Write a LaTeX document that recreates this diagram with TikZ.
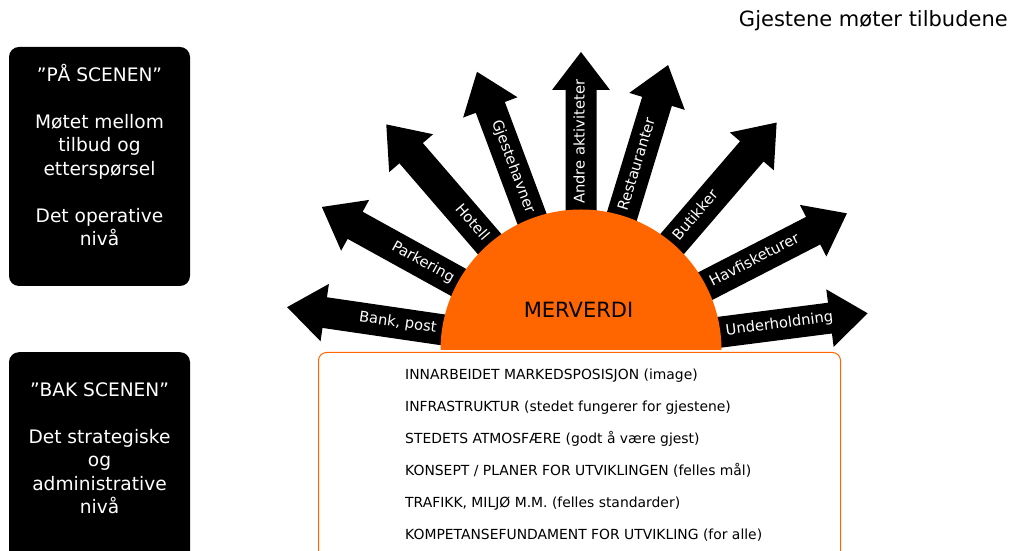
\documentclass[tikz,border=0pt]{standalone}
\usepackage{fontspec}
\setmainfont{DejaVu Sans}

\definecolor{oransje}{RGB}{255,102,0}
\tikzset{
  svartboks/.style={fill=black, rounded corners=10pt, minimum width=181pt, inner sep=0pt},
  hvittekst/.style={text=white, align=center, inner sep=0pt, font=\fontsize{18.6}{23.5}\selectfont},
  pil/.style={fill=black},
  etikett/.style={text=white, inner sep=0pt, font=\fontsize{14.7}{17}\selectfont, text height=0.73em, text depth=0pt},
  linje/.style={anchor=base west, inner sep=0pt, font=\fontsize{13.9}{16}\selectfont},
}

\begin{document}
\begin{tikzpicture}[x=1pt, y=1pt]
\clip (0,0) rectangle (1010,551);
\coordinate (midt) at (581,201);

\node[anchor=base east, inner sep=0pt, font=\fontsize{21}{25}\selectfont] (tittel) at (1008,524) {Gjestene møter tilbudene};

% boksene til venstre
\node[svartboks, minimum height=239pt] (paascenen) at (99.5,384.5) {};
\node[hvittekst] (paatekst) at (99.5,396) {”PÅ SCENEN”\\[23.5pt] Møtet mellom\\ tilbud og\\ etterspørsel\\[23.5pt] Det operative\\ nivå};
\node[svartboks, minimum height=240pt, anchor=north] (bakscenen) at (99.5,199) {};
\node[hvittekst] (baktekst) at (99.5,103) {”BAK SCENEN”\\[23.5pt] Det strategiske\\ og\\ administrative\\ nivå};

% pilene
\foreach \v/\l/\t [count=\i] in {171.7/297/{Bank, post}, 151.1/296/Parkering, 130.8/298/Hotell, 110.5/297/Gjestehavner}
{
  \fill[pil, shift={(midt)}, rotate=\v] (125,-15.5) -- (\l-38,-15.5) -- (\l-38,-29) -- (\l,0) -- (\l-38,29) -- (\l-38,15.5) -- (125,15.5) -- cycle;
  \node[etikett, anchor=east, rotate=\v-180] (etikett\i) at ([shift={(\v:146)}]midt) {\t};
}
\foreach \v/\l/\t [count=\i from 5] in {90/298/Andre aktiviteter, 73/298/Restauranter, 49.3/300/Butikker, 27.2/299/Havfisketurer, 7.3/289/Underholdning}
{
  \fill[pil, shift={(midt)}, rotate=\v] (125,-15.5) -- (\l-38,-15.5) -- (\l-38,-29) -- (\l,0) -- (\l-38,29) -- (\l-38,15.5) -- (125,15.5) -- cycle;
  \node[etikett, anchor=west, rotate=\v] (etikett\i) at ([shift={(\v:146)}]midt) {\t};
}

% sola
\fill[oransje] ([xshift=-140.5pt]midt) arc[start angle=180, end angle=0, radius=140.5] -- cycle;
\node[font=\fontsize{21}{25}\selectfont, inner sep=0pt] (merverdi) at (578.5,241) {MERVERDI};

% grunnmuren
\node[draw=oransje, fill=white, line width=1pt, rounded corners=8pt, minimum width=522pt, minimum height=230pt, anchor=north west] (grunnmur) at (318,199) {};
\foreach \t [count=\i] in {{INNARBEIDET MARKEDSPOSISJON (image)}, {INFRASTRUKTUR (stedet fungerer for gjestene)}, {STEDETS ATMOSFÆRE (godt å være gjest)}, {KONSEPT / PLANER FOR UTVIKLINGEN (felles mål)}, {TRAFIKK, MILJØ M.M. (felles standarder)}, {KOMPETANSEFUNDAMENT FOR UTVIKLING (for alle)}}
  \node[linje] (linje\i) at (405,203.2-32*\i) {\t};
\end{tikzpicture}
\end{document}
